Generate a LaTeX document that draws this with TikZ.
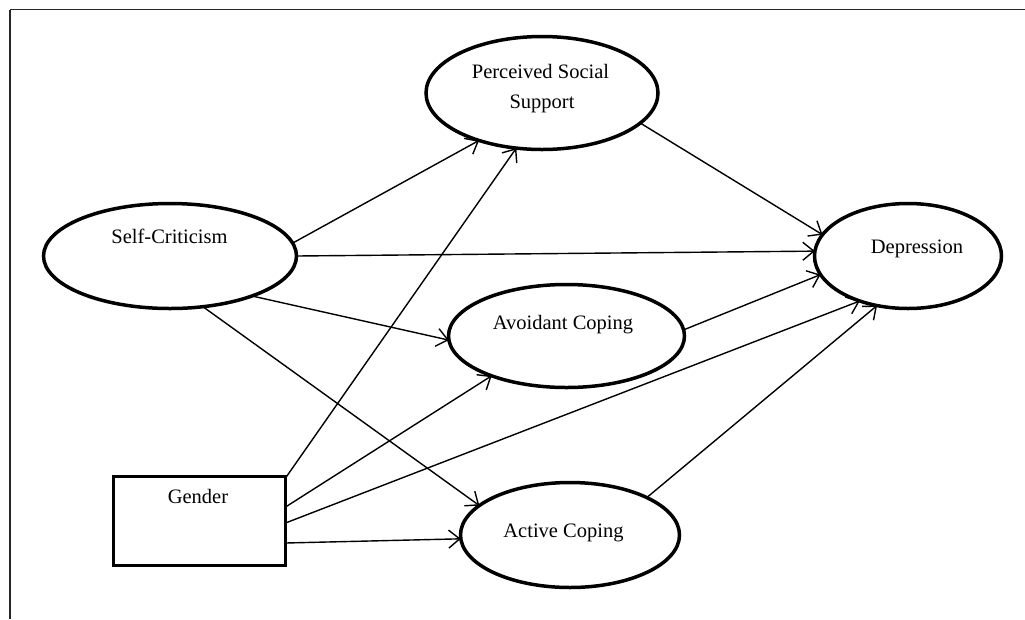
\documentclass[tikz,border=0pt]{standalone}
\usepackage{fontspec}
\setmainfont{Liberation Serif}
\usetikzlibrary{shapes.geometric,arrows.meta}
\tikzset{
  latent/.style={ellipse,draw=black,line width=3.5pt,inner sep=0pt,outer sep=0pt},
  observed/.style={rectangle,draw=black,line width=3.5pt,inner sep=0pt,outer sep=0pt},
  lbl/.style={anchor=base,inner sep=0pt,font=\fontsize{20.5}{24}\selectfont},
  path/.style={line width=1.4pt,-{Straight Barb[length=11pt,width=18pt]}},
  frameline/.style={line width=1.8pt,black!85}
}
\begin{document}
\begin{tikzpicture}[x=1pt,y=-1pt]
\useasboundingbox (0,0) rectangle (1025,619);
% frame
\coordinate (f1) at (10,9.5);
\coordinate (f2) at (1025,9.5);
\coordinate (f3) at (10,619);
\draw[frameline] (f2) -- (f1);
\draw[line width=1.4pt,black!85] (f1) -- (f3);

% nodes
\node[latent,minimum width=232pt,minimum height=113pt] (pss) at (542,93) {};
\node[latent,minimum width=253pt,minimum height=105pt] (sc) at (170,256) {};
\node[latent,minimum width=187pt,minimum height=105pt] (dep) at (908,256) {};
\node[latent,minimum width=236pt,minimum height=103pt] (av) at (566.5,336) {};
\node[latent,minimum width=219pt,minimum height=105pt] (ac) at (570,535) {};
\node[observed,minimum width=172pt,minimum height=89pt] (g) at (199.5,521) {};

% labels
\node[lbl] (tpss1) at (540.5,78) {Perceived Social};
\node[lbl] (tpss2) at (542,108) {Support};
\node[lbl] (tsc) at (169.5,243) {Self-Criticism};
\node[lbl] (tdep) at (917,253) {Depression};
\node[lbl] (tav) at (563,329) {Avoidant Coping};
\node[lbl] (tac) at (563.5,537) {Active Coping};
\node[lbl] (tg) at (198,503) {Gender};

% paths
\draw[path] (sc.6.3) -- (pss.-143.3);
\draw[path] (sc.0) -- (dep.177.6);
\draw[path] (sc.-26.6) -- (av.-178);
\draw[path] (sc.-57) -- (ac.162);
\draw[path] (pss.-17.5) -- (dep.166.5);
\draw[path] (av.3) -- (dep.-168.8);
\draw[path] (ac.26) -- (dep.-122.5);
\draw[path] ([yshift=43pt]g.east) -- (pss.-115.5);
\draw[path] ([yshift=14pt]g.east) -- (av.-152.5);
\draw[path] ([yshift=-2pt]g.east) -- (dep.-137.3);
\draw[path] ([yshift=-22pt]g.east) -- (ac.-178.5);
\end{tikzpicture}
\end{document}
